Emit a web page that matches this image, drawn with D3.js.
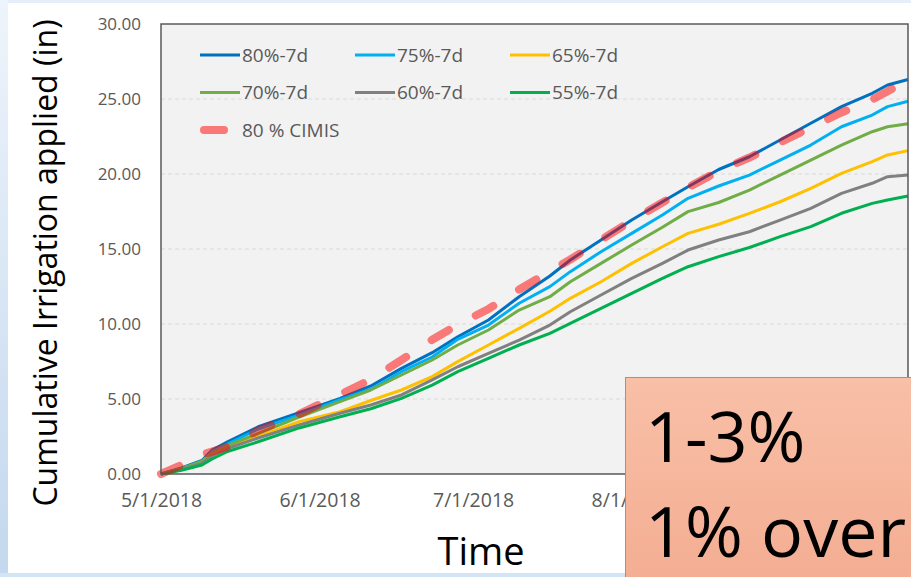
<!DOCTYPE html>
<html>
<head>
<meta charset="utf-8">
<script src="https://cdn.jsdelivr.net/npm/d3@7"></script>
<style>
    body { margin: 0; background: #fff; }
    svg { display: block; font-family: 'Open Sans', sans-serif; }
</style>
</head>
<body>
<svg id="chart" width="911" height="577"></svg>
<script>
// sample dates (days)
const dates = ['2018-05-01', '2018-05-05', '2018-05-09', '2018-05-11', '2018-05-14', '2018-05-20',
    '2018-05-28', '2018-06-05', '2018-06-11', '2018-06-17', '2018-06-23', '2018-06-28', '2018-07-04',
    '2018-07-10', '2018-07-16', '2018-07-20', '2018-07-26', '2018-08-01', '2018-08-07', '2018-08-12',
    '2018-08-18', '2018-08-24', '2018-08-30', '2018-09-05', '2018-09-11', '2018-09-17', '2018-09-20',
    '2018-09-24'];

const s80 = [0, 0.40, 0.90, 1.60, 2.15, 3.15, 4.09, 5.04, 5.87, 7.04, 8.09, 9.15, 10.27, 11.82, 13.20,
    14.27, 15.60, 16.93, 18.15, 19.15, 20.30, 21.15, 22.27, 23.38, 24.49, 25.38, 25.93, 26.30];
const s75 = [0, 0.35, 0.85, 1.50, 2.00, 3.00, 3.93, 4.95, 5.65, 6.82, 7.80, 8.98, 9.93, 11.38, 12.49,
    13.49, 14.82, 16.04, 17.27, 18.38, 19.20, 19.93, 20.93, 21.93, 23.15, 23.93, 24.49, 24.85];
const s65 = [0, 0.30, 0.75, 1.20, 1.75, 2.50, 3.49, 4.15, 4.90, 5.60, 6.49, 7.49, 8.60, 9.71, 10.85,
    11.71, 12.82, 14.04, 15.15, 16.04, 16.65, 17.38, 18.15, 19.04, 20.04, 20.82, 21.27, 21.56];
const s70 = [0, 0.35, 0.85, 1.40, 1.90, 2.70, 3.80, 4.82, 5.60, 6.60, 7.60, 8.60, 9.60, 10.93, 11.82,
    12.82, 14.04, 15.27, 16.45, 17.49, 18.10, 18.93, 19.93, 20.93, 21.93, 22.82, 23.15, 23.35];
const s60 = [0, 0.30, 0.70, 1.20, 1.70, 2.40, 3.27, 4.05, 4.60, 5.27, 6.27, 7.15, 8.04, 8.93, 9.93,
    10.82, 11.93, 13.04, 14.04, 14.93, 15.60, 16.15, 16.93, 17.71, 18.71, 19.38, 19.82, 19.93];
const s55 = [0, 0.25, 0.60, 1.00, 1.50, 2.15, 3.07, 3.82, 4.35, 5.04, 5.93, 6.82, 7.71, 8.60, 9.38,
    10.04, 11.04, 12.04, 13.04, 13.82, 14.49, 15.10, 15.82, 16.49, 17.38, 18.04, 18.27, 18.53];

const cimisDates = ['2018-05-01', '2018-05-05', '2018-05-09', '2018-05-14', '2018-05-20', '2018-05-28',
    '2018-06-05', '2018-06-11', '2018-06-17', '2018-06-23', '2018-06-28', '2018-07-04', '2018-07-10',
    '2018-07-16', '2018-07-20', '2018-07-26', '2018-08-01', '2018-08-07', '2018-08-12', '2018-08-18',
    '2018-08-24', '2018-08-30', '2018-09-05', '2018-09-11', '2018-09-17', '2018-09-21'];
const cimis = [0, 0.60, 1.30, 1.80, 2.90, 4.00, 5.30, 6.30, 7.60, 8.95, 9.95, 11.00, 12.30, 13.50,
    14.30, 15.60, 16.90, 18.10, 19.10, 20.20, 21.10, 22.10, 23.10, 24.10, 24.95, 25.70];

const seriesNames = ['80%-7d', '75%-7d', '65%-7d', '70%-7d', '60%-7d', '55%-7d'];
const seriesValues = [s80, s75, s65, s70, s60, s55];
const seriesColors = ['#0070C0', '#00B0F0', '#FFC000', '#70AD47', '#808080', '#00B050'];
const cimisName = '80 % CIMIS';
const cimisColor = '#FF0000';

const yTicks = [0, 5, 10, 15, 20, 25, 30];
// 9/1/2018 sits under the callout box, so only the visible ticks are listed
const xTicks = ['2018-05-01', '2018-06-01', '2018-07-01', '2018-08-01'];
const yTitle = 'Cumulative Irrigation applied (in)';
const xTitle = 'Time';
const noteLines = ['1-3%', '1% over'];

let parse = d3.timeParse('%Y-%m-%d');
let margin = {top: 24, left: 161, right: 3, bot: 103};
let width = 911, height = 577;
let svg = d3.select('#chart');

// slide background
let defs = svg.append('defs');
let edge = defs.append('linearGradient').attr('id', 'edge')
    .attr('x1', 0).attr('y1', 0).attr('x2', 0).attr('y2', 1);
edge.append('stop').attr('offset', '0%').attr('stop-color', '#EEF4FB');
edge.append('stop').attr('offset', '100%').attr('stop-color', '#C3D8EE');
let boxFill = defs.append('linearGradient').attr('id', 'boxFill')
    .attr('x1', 0).attr('y1', 0).attr('x2', 0).attr('y2', 1);
boxFill.append('stop').attr('offset', '0%').attr('stop-color', '#F8C0A7');
boxFill.append('stop').attr('offset', '100%').attr('stop-color', '#F3AC91');
defs.append('clipPath').attr('id', 'labelClip')
    .append('rect').attr('x', 0).attr('y', 0).attr('width', 625).attr('height', height);

svg.append('rect').attr('width', width).attr('height', height).attr('fill', '#E6EFF9');
svg.append('rect').attr('x', 0).attr('y', 0).attr('width', 8).attr('height', height).attr('fill', 'url(#edge)');
svg.append('rect').attr('x', 0).attr('y', 573).attr('width', width).attr('height', 4).attr('fill', '#D3E4F4');
svg.append('rect').attr('x', 8).attr('y', 3).attr('width', width - 8).attr('height', 570).attr('fill', '#fff');

let plotW = width - margin.left - margin.right;
let plotH = height - margin.top - margin.bot;

let xScale = d3.scaleTime()
    .domain([parse('2018-05-01'), parse('2018-09-24')])
    .range([margin.left, margin.left + plotW]);
let yScale = d3.scaleLinear()
    .domain([0, 30])
    .range([margin.top + plotH, margin.top]);

// plot area
svg.append('rect')
    .attr('x', margin.left).attr('y', margin.top)
    .attr('width', plotW).attr('height', plotH)
    .attr('fill', '#F2F2F2');

svg.append('g')
    .selectAll('line')
    .data(yTicks.filter(d => d > 0 && d < 30))
    .join('line')
    .attr('x1', margin.left).attr('x2', margin.left + plotW)
    .attr('y1', d => yScale(d)).attr('y2', d => yScale(d))
    .attr('stroke', '#D9D9D9')
    .attr('stroke-width', 1.2)
    .attr('stroke-dasharray', '4,3');

// axes
let yAx = d3.axisLeft(yScale)
    .tickValues(yTicks)
    .tickFormat(d3.format('.2f'))
    .tickSize(0)
    .tickPadding(20);
let yAxGroup = svg.append('g')
    .attr('transform', `translate(${margin.left},0)`)
    .call(yAx);
yAxGroup.select('.domain').remove();
yAxGroup.selectAll('text')
    .attr('fill', '#595959')
    .style('font-size', '17px')
    .style('font-family', "'Open Sans', sans-serif");

let xAx = d3.axisBottom(xScale)
    .tickValues(xTicks.map(parse))
    .tickFormat(d3.timeFormat('%-m/%-d/%Y'))
    .tickSize(0)
    .tickPadding(19);
let xAxGroup = svg.append('g')
    .attr('transform', `translate(0,${margin.top + plotH})`)
    .attr('clip-path', 'url(#labelClip)')
    .call(xAx);
xAxGroup.select('.domain').remove();
xAxGroup.selectAll('text')
    .attr('fill', '#595959')
    .style('font-size', '19.5px')
    .style('font-family', "'Open Sans', sans-serif");

// lines
let lineChart = svg.append('g');
let line = d3.line()
    .x(d => xScale(d.date))
    .y(d => yScale(d.value));

seriesValues.forEach((vals, i) => {
    let data = vals.map((v, j) => ({date: parse(dates[j]), value: v}));
    lineChart.append('path')
        .datum(data)
        .attr('d', line)
        .attr('fill', 'none')
        .attr('stroke', seriesColors[i])
        .attr('stroke-width', 3)
        .attr('stroke-linejoin', 'round');
});

let cimisData = cimis.map((v, j) => ({date: parse(cimisDates[j]), value: v}));
lineChart.append('path')
    .datum(cimisData)
    .attr('d', line)
    .attr('fill', 'none')
    .attr('stroke', cimisColor)
    .attr('stroke-opacity', 0.5)
    .attr('stroke-width', 8)
    .attr('stroke-linecap', 'round')
    .attr('stroke-dasharray', '20,30.5');

// frame
svg.append('rect')
    .attr('x', margin.left).attr('y', margin.top)
    .attr('width', plotW).attr('height', plotH)
    .attr('fill', 'none')
    .attr('stroke', '#595959')
    .attr('stroke-width', 1.5);

// legend
let legend = svg.append('g').attr('transform', 'translate(200,55)');
let items = seriesNames.map((n, i) => ({name: n, color: seriesColors[i], cimis: false}));
items.push({name: cimisName, color: cimisColor, cimis: true});
let entry = legend.selectAll('g')
    .data(items)
    .join('g')
    .attr('transform', (d, i) => `translate(${(i % 3) * 155},${Math.floor(i / 3) * 37.5})`);
entry.append('line')
    .attr('x1', d => d.cimis ? 4 : 0)
    .attr('x2', d => d.cimis ? 24 : 40)
    .attr('stroke', d => d.color)
    .attr('stroke-opacity', d => d.cimis ? 0.5 : 1)
    .attr('stroke-width', d => d.cimis ? 8 : 3)
    .attr('stroke-linecap', d => d.cimis ? 'round' : 'butt');
entry.append('text')
    .attr('x', 42)
    .attr('dy', '0.35em')
    .attr('fill', '#595959')
    .style('font-size', '19px')
    .text(d => d.name);

// axis titles
svg.append('text')
    .attr('transform', 'translate(57,263) rotate(-90)')
    .attr('text-anchor', 'middle')
    .attr('fill', '#000')
    .style('font-size', '32px')
    .text(yTitle);
svg.append('text')
    .attr('x', 481)
    .attr('y', 565)
    .attr('text-anchor', 'middle')
    .attr('fill', '#000')
    .style('font-size', '38px')
    .text(xTitle);

// callout box
svg.append('rect')
    .attr('x', 625.5).attr('y', 377.5)
    .attr('width', 300).attr('height', 220)
    .attr('fill', 'url(#boxFill)')
    .attr('stroke', '#ED7D31')
    .attr('stroke-width', 1);
svg.append('g')
    .selectAll('text')
    .data(noteLines)
    .join('text')
    .attr('x', 645)
    .attr('y', (d, i) => 462 + i * 95)
    .attr('fill', '#000')
    .style('font-size', '70px')
    .text(d => d);
</script>
</body>
</html>
